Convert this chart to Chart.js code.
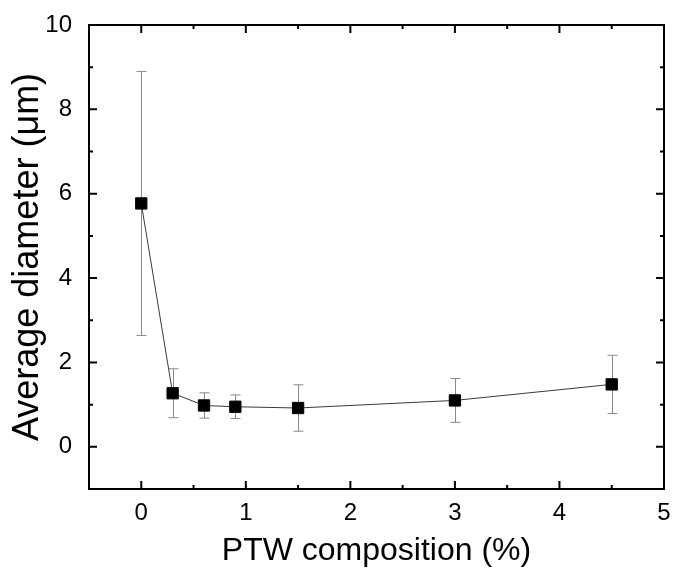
<!DOCTYPE html>
<html>
<head>
<meta charset="utf-8">
<script src="https://cdn.jsdelivr.net/npm/chart.js@4/dist/chart.umd.min.js"></script>
<style>
  html, body { margin: 0; padding: 0; background: #ffffff; }
  #wrap { width: 673px; height: 574px; position: relative; }
</style>
</head>
<body>
<div id="wrap"><canvas id="c" width="673" height="574"></canvas></div>
<script>
// ---- data ----
const ptwComposition = [0, 0.3, 0.6, 0.9, 1.5, 3, 4.5];
const avgDiameter    = [5.77, 1.27, 0.98, 0.95, 0.92, 1.10, 1.48];
const diameterError  = [3.13, 0.58, 0.30, 0.28, 0.55, 0.52, 0.69];
const xTickValues = [0, 1, 2, 3, 4, 5];
const yTickValues = [0, 2, 4, 6, 8, 10];

const FONT = "'Liberation Sans', Arial, sans-serif";

const errorBarPlugin = {
  id: 'errorBars',
  beforeDatasetsDraw(chart) {
    const ctx = chart.ctx;
    const xs = chart.scales.x, ys = chart.scales.y;
    ctx.save();
    ctx.strokeStyle = '#8a8a8a';
    ctx.lineWidth = 1;
    const cap = 5;
    ptwComposition.forEach((xv, i) => {
      const px = Math.round(xs.getPixelForValue(xv)) + 0.5;
      const yTop = ys.getPixelForValue(avgDiameter[i] + diameterError[i]);
      const yBot = ys.getPixelForValue(avgDiameter[i] - diameterError[i]);
      ctx.beginPath();
      ctx.moveTo(px, yTop); ctx.lineTo(px, yBot);
      ctx.moveTo(px - cap, yTop); ctx.lineTo(px + cap, yTop);
      ctx.moveTo(px - cap, yBot); ctx.lineTo(px + cap, yBot);
      ctx.stroke();
    });
    ctx.restore();
  }
};

const framePlugin = {
  id: 'frame',
  afterDatasetsDraw(chart) {
    const ctx = chart.ctx;
    const a = chart.chartArea;
    const xs = chart.scales.x, ys = chart.scales.y;
    ctx.save();
    ctx.strokeStyle = '#000';
    ctx.lineWidth = 2;
    ctx.strokeRect(a.left, a.top, a.right - a.left, a.bottom - a.top);
    const major = 8, minor = 4;
    ctx.beginPath();
    for (let v = -0.5; v <= 5.0001; v += 0.5) {
      const isMajor = Math.abs(v - Math.round(v)) < 1e-6;
      const len = isMajor ? major : minor;
      const px = xs.getPixelForValue(v);
      if (px <= a.left + 1 || px >= a.right - 1) continue;
      ctx.moveTo(px, a.bottom); ctx.lineTo(px, a.bottom - len);
      ctx.moveTo(px, a.top); ctx.lineTo(px, a.top + len);
    }
    for (let v = -1; v <= 10.0001; v += 1) {
      const isMajor = Math.round(v) % 2 === 0;
      const len = isMajor ? major : minor;
      const py = ys.getPixelForValue(v);
      if (py <= a.top + 1 || py >= a.bottom - 1) continue;
      ctx.moveTo(a.left, py); ctx.lineTo(a.left + len, py);
      ctx.moveTo(a.right, py); ctx.lineTo(a.right - len, py);
    }
    ctx.stroke();
    ctx.restore();
  }
};

new Chart(document.getElementById('c'), {
  type: 'scatter',
  data: {
    datasets: [{
      label: 'Average diameter',
      data: ptwComposition.map((x, i) => ({ x: x, y: avgDiameter[i] })),
      showLine: true,
      borderColor: '#3a3a3a',
      borderWidth: 1,
      pointStyle: 'rect',
      pointRadius: 8,
      pointHoverRadius: 8,
      pointBackgroundColor: '#000',
      pointBorderColor: '#000',
      pointBorderWidth: 1,
      tension: 0
    }]
  },
  options: {
    responsive: false,
    animation: false,
    devicePixelRatio: 1,
    layout: { padding: { top: 25, right: 9, left: 0, bottom: 0 } },
    plugins: {
      legend: { display: false },
      tooltip: { enabled: false }
    },
    scales: {
      x: {
        type: 'linear',
        min: -0.5, max: 5,
        afterFit(scale) { scale.height = 85; scale.paddingLeft = 0; scale.paddingRight = 0; },
        afterBuildTicks(scale) { scale.ticks = xTickValues.map(v => ({ value: v })); },
        grid: { display: false, drawTicks: false },
        border: { display: false },
        ticks: {
          color: '#000', padding: 10,
          font: { family: FONT, size: 24 },
          callback: v => String(v)
        },
        title: {
          display: true, text: 'PTW composition (%)', color: '#000',
          font: { family: FONT, size: 32 },
          padding: { top: 0, bottom: 4 }
        }
      },
      y: {
        type: 'linear',
        min: -1, max: 10,
        afterFit(scale) { scale.width = 89; scale.paddingTop = 0; scale.paddingBottom = 0; },
        afterBuildTicks(scale) { scale.ticks = yTickValues.map(v => ({ value: v })); },
        grid: { display: false, drawTicks: false },
        border: { display: false },
        ticks: {
          color: '#000', padding: 17,
          font: { family: FONT, size: 24 },
          callback: v => String(v)
        },
        title: {
          display: true, text: 'Average diameter (μm)', color: '#000',
          font: { family: FONT, size: 36 },
          padding: { top: 6, bottom: 0 }
        }
      }
    }
  },
  plugins: [errorBarPlugin, framePlugin]
});
</script>
</body>
</html>
